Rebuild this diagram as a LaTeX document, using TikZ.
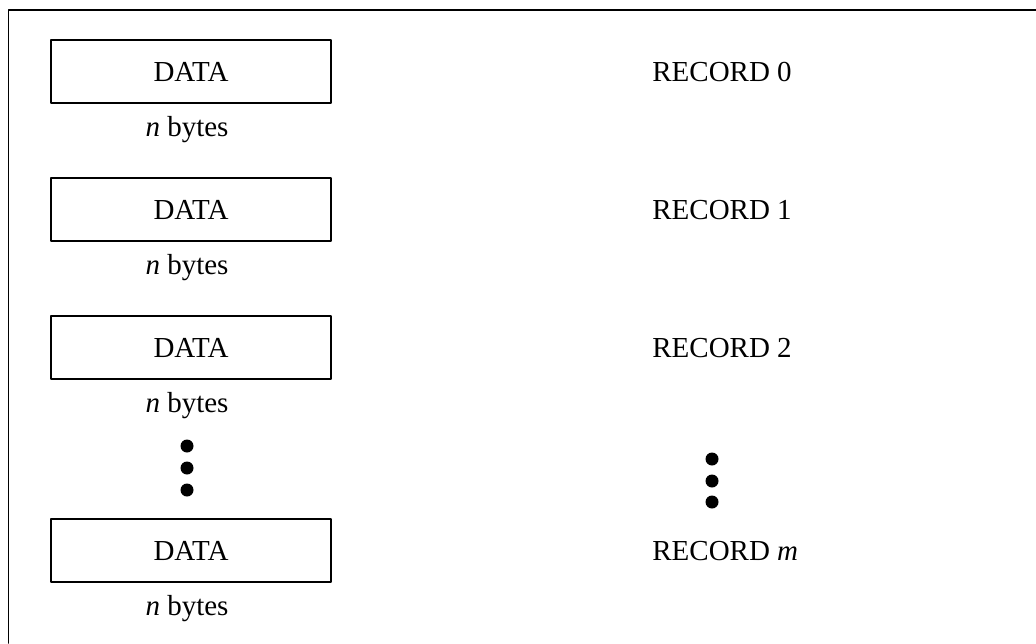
\documentclass[tikz,border=0pt]{standalone}
\usepackage{fontspec}
\setmainfont{Liberation Serif}
\usetikzlibrary{positioning}
\tikzset{
	databox/.style={draw, line width=1.1pt, minimum width=5.6cm, minimum height=1.26cm, inner sep=0pt},
	sizelabel/.style={anchor=base, inner sep=0pt},
	reclabel/.style={anchor=base west, inner sep=0pt},
	dot/.style={fill=black}
}
\begin{document}
\begin{tikzpicture}[scale=1, font=\fontsize{16.5}{19}\selectfont, line join=round, line cap=round]
	\useasboundingbox (0,0) rectangle (20.72,12.86);
	% frame
	\draw[line width=1.1pt] (0.17,0)--(0.17,12.66)--(20.72,12.66);
	% data blocks
	\node[databox] (d0) at (3.82,11.43) {DATA};
	\node[databox] (d1) at (3.82,8.67) {DATA};
	\node[databox] (d2) at (3.82,5.91) {DATA};
	\node[databox] (dm) at (3.82,1.85) {DATA};
	\node[sizelabel] (b0) at ([xshift=-0.8mm, yshift=-6.6mm]d0.south) {\textit{n} bytes};
	\node[sizelabel] (b1) at ([xshift=-0.8mm, yshift=-6.6mm]d1.south) {\textit{n} bytes};
	\node[sizelabel] (b2) at ([xshift=-0.8mm, yshift=-6.6mm]d2.south) {\textit{n} bytes};
	\node[sizelabel] (bm) at ([xshift=-0.8mm, yshift=-6.6mm]dm.south) {\textit{n} bytes};
	% record names
	\coordinate (rx) at (13.04,0);
	\node[reclabel] (r0) at (d0.base -| rx) {RECORD 0};
	\node[reclabel] (r1) at (d1.base -| rx) {RECORD 1};
	\node[reclabel] (r2) at (d2.base -| rx) {RECORD 2};
	\node[reclabel] (rm) at (dm.base -| rx) {RECORD \textit{m}};
	% ellipses
	\foreach \y in {3.94,3.50,3.06} \fill[dot] (3.74,\y) circle (0.13);
	\foreach \y in {3.68,3.24,2.82} \fill[dot] (14.24,\y) circle (0.13);
\end{tikzpicture}
\end{document}
